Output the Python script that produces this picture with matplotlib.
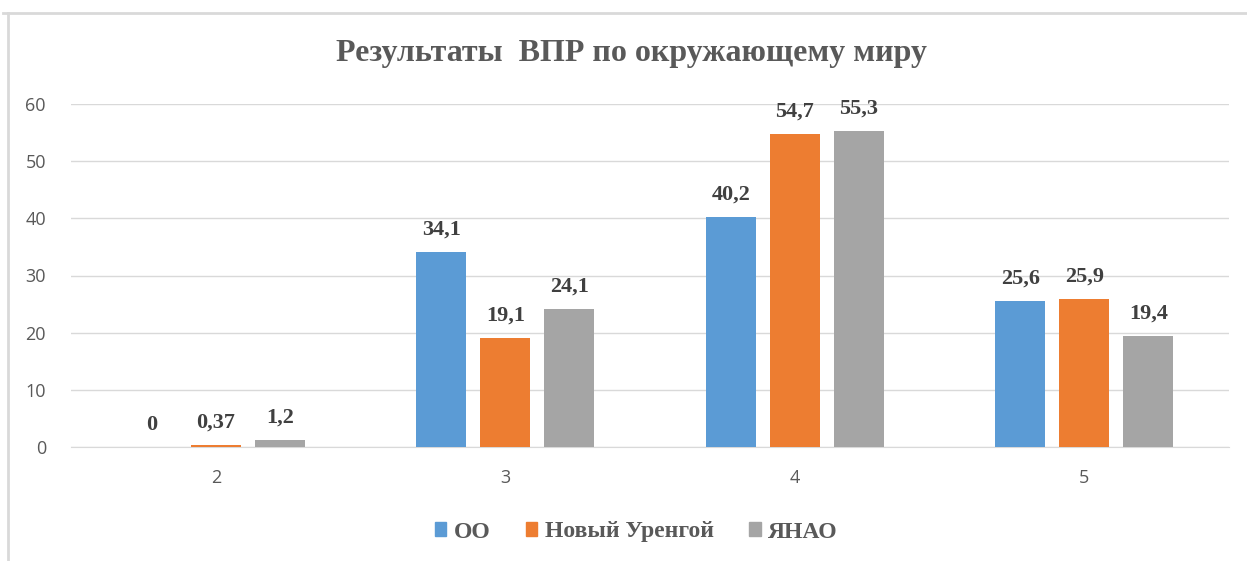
import numpy as np
import matplotlib.pyplot as plt
from matplotlib.lines import Line2D

# data
categories = ["2", "3", "4", "5"]
series_names = ["ОО", "Новый Уренгой", "ЯНАО"]
oo = [0, 34.1, 40.2, 25.6]
nu = [0.37, 19.1, 54.7, 25.9]
yanao = [1.2, 24.1, 55.3, 19.4]
colors = ["#5B9BD5", "#ED7D31", "#A5A5A5"]

W, H = 1247, 561
fig = plt.figure(figsize=(W / 100, H / 100), dpi=100)
ax = fig.add_axes([71 / W, 1 - 447 / H, (1229 - 71) / W, (447 - 104) / H])

x = np.arange(len(categories))
bw = 0.173
step = 0.221
serif = "Liberation Serif"

for i, (vals, name) in enumerate(zip([oo, nu, yanao], series_names)):
    pos = x + (i - 1) * step
    ax.bar(pos, vals, width=bw, color=colors[i], label=name, zorder=3)
    for p, v in zip(pos, vals):
        txt = ("%g" % v).replace(".", ",")
        ax.annotate(txt, (p, v), xytext=(0, 9), textcoords="offset points",
                    ha="center", va="bottom", fontsize=16, fontweight="bold",
                    family=serif, color="#404040")

ax.set_xlim(-0.5, 3.5)
ax.set_ylim(0, 60)
ax.set_yticks(range(0, 61, 10))
ax.set_xticks(x)
ax.set_xticklabels(categories)
ax.grid(axis="y", color="#D9D9D9", linewidth=1, zorder=0)
for s in ["top", "right", "left"]:
    ax.spines[s].set_visible(False)
ax.spines["bottom"].set_color("#D9D9D9")
ax.tick_params(length=0, labelsize=13, labelcolor="#595959", pad=16)
ax.tick_params(axis="y", pad=18)
for t in ax.get_xticklabels() + ax.get_yticklabels():
    t.set_family("Open Sans")

fig.text(632 / W, 1 - 53 / H, "Результаты  ВПР по окружающему миру", ha="center", va="center",
         fontsize=23, fontweight="bold", family=serif, color="#595959")

handles = [plt.Rectangle((0, 0), 1, 1, color=c) for c in colors]
fig.legend(handles, series_names, loc="center", bbox_to_anchor=(636 / W, 1 - 532 / H),
           ncol=3, frameon=False, prop={"family": serif, "weight": "bold", "size": 17},
           labelcolor="#595959", handlelength=0.5, handleheight=0.5, handletextpad=0.3,
           columnspacing=1.5)

# chart border (top and left visible)
fig.add_artist(Line2D([3 / W, 1], [1 - 13 / H] * 2, color="#D9D9D9", lw=2))
fig.add_artist(Line2D([8 / W] * 2, [0, 1 - 13 / H], color="#D9D9D9", lw=2))

fig.savefig("out.png", dpi=100)
